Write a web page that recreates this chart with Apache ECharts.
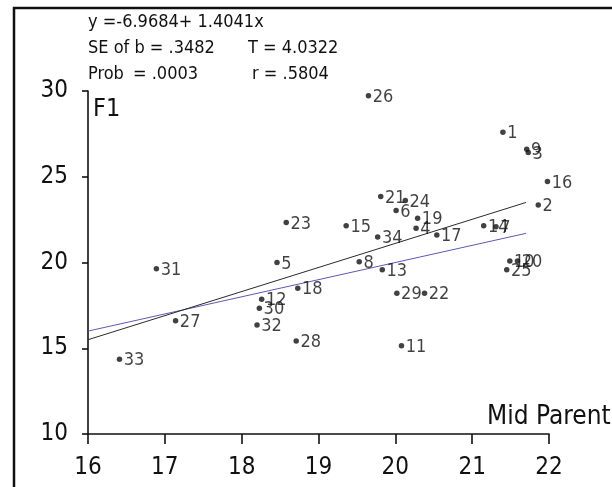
<!DOCTYPE html>
<html>
<head>
<meta charset="utf-8">
<script src="https://cdn.jsdelivr.net/npm/echarts@6/dist/echarts.min.js"></script>
<style>
  html, body { margin: 0; padding: 0; background: #fff; }
  #chart { width: 612px; height: 487px; }
</style>
</head>
<body>
<div id="chart"></div>
<script>
// Family numbers and their mid-parent / F1 measurements
const ids = [1, 2, 3, 4, 5, 6, 7, 8, 9, 10, 11, 12, 13, 14, 15, 16, 17,
             18, 19, 20, 21, 22, 23, 24, 25, 26, 27, 28, 29, 30, 31, 32, 33, 34];
const midParent = [21.40, 21.86, 21.73, 20.27, 18.46, 20.01, 21.31, 19.53, 21.71, 21.49, 20.08, 18.26,
                   19.83, 21.15, 19.36, 21.98, 20.54, 18.73, 20.29, 21.59, 19.81, 20.38, 18.58, 20.13,
                   21.45, 19.65, 17.14, 18.71, 20.02, 18.23, 16.89, 18.20, 16.41, 19.77];
const f1 = [27.60, 23.36, 26.41, 22.00, 20.00, 23.03, 22.08, 20.05, 26.61, 20.09, 15.15, 17.86,
            19.57, 22.15, 22.15, 24.72, 21.61, 18.50, 22.58, 20.09, 23.85, 18.21, 22.33, 23.61,
            19.57, 29.72, 16.61, 15.43, 18.21, 17.33, 19.63, 16.36, 14.36, 21.48];

// Regression of F1 on mid parent, and the span over which the fitted and 1:1 lines are drawn
const intercept = -6.9684;
const slope = 1.4041;
const lineSpan = [16, 21.7];

// Axis ticks
const xTicks = [16, 17, 18, 19, 20, 21, 22];
const yTicks = [10, 15, 20, 25, 30];

const statLines = [
  ['y =-6.9684+ 1.4041x', ''],
  ['SE of b = .3482', 'T = 4.0322'],
  ['Prob', 'r = .5804']
];

const FONT = "'Liberation Sans Narrow', 'DejaVu Sans Condensed', 'Arial Narrow', sans-serif";
const INK = '#111111';

const points = ids.map((id, i) => [midParent[i], f1[i], id]);
const fitLine = lineSpan.map(x => [x, intercept + slope * x]);
const identityLine = lineSpan.map(x => [x, x]);

const chart = echarts.init(document.getElementById('chart'), null, { renderer: 'canvas' });

chart.setOption({
  backgroundColor: '#ffffff',
  animation: false,
  grid: { left: 88, top: 91, right: 63, bottom: 53, containLabel: false },
  xAxis: {
    type: 'value',
    min: xTicks[0], max: xTicks[xTicks.length - 1], interval: 1,
    axisLine: { lineStyle: { color: INK, width: 1.6 } },
    axisTick: { show: true, length: 10, inside: false, lineStyle: { color: INK, width: 1.6 } },
    axisLabel: { fontFamily: FONT, fontSize: 24, color: INK, margin: 22 },
    splitLine: { show: false }
  },
  yAxis: {
    type: 'value',
    min: yTicks[0], max: yTicks[yTicks.length - 1], interval: 5,
    axisLine: { show: true, lineStyle: { color: INK, width: 1.6 } },
    axisTick: { show: true, length: 6, inside: false, lineStyle: { color: INK, width: 1.6 } },
    axisLabel: { fontFamily: FONT, fontSize: 24, color: INK, margin: 20 },
    splitLine: { show: false }
  },
  series: [
    {
      type: 'line',
      data: identityLine,
      symbol: 'none',
      lineStyle: { color: '#5a5ab4', width: 1 },
      z: 2
    },
    {
      type: 'line',
      data: fitLine,
      symbol: 'none',
      lineStyle: { color: '#2a2a2a', width: 1 },
      z: 2
    },
    {
      type: 'scatter',
      data: points,
      symbol: 'circle',
      symbolSize: 5.5,
      itemStyle: { color: '#111' },
      label: {
        show: true,
        position: 'right',
        distance: 1.5,
        offset: [0, 1.5],
        formatter: p => String(p.value[2]),
        fontFamily: FONT,
        fontSize: 18,
        color: INK
      },
      z: 3
    }
  ],
  graphic: [
    // page frame
    {
      type: 'polyline',
      shape: { points: [[14, 487], [14, 8], [612, 8]] },
      style: { stroke: '#111', lineWidth: 2.5, fill: null },
      silent: true
    },
    { type: 'text', left: 88, top: 13, style: { text: statLines[0][0], font: `18px ${FONT}`, fill: INK } },
    { type: 'text', left: 88, top: 39, style: { text: statLines[1][0], font: `18px ${FONT}`, fill: INK } },
    { type: 'text', left: 248, top: 39, style: { text: statLines[1][1], font: `18px ${FONT}`, fill: INK } },
    { type: 'text', left: 88, top: 65, style: { text: statLines[2][0], font: `18px ${FONT}`, fill: INK } },
    { type: 'text', left: 133, top: 65, style: { text: '= .0003', font: `18px ${FONT}`, fill: INK } },
    { type: 'text', left: 252, top: 65, style: { text: statLines[2][1], font: `18px ${FONT}`, fill: INK } },
    { type: 'text', left: 93, top: 97, style: { text: 'F1', font: `25px ${FONT}`, fill: INK } },
    { type: 'text', left: 487, top: 404, style: { text: 'Mid Parent', font: `26px ${FONT}`, fill: INK } }
  ]
});
</script>
</body>
</html>
